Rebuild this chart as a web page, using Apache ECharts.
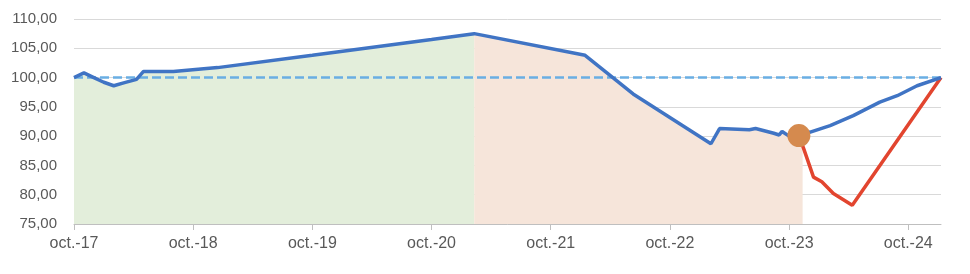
<!DOCTYPE html>
<html>
<head>
<meta charset="utf-8">
<script src="https://cdn.jsdelivr.net/npm/echarts@6/dist/echarts.min.js"></script>
<style>
html,body{margin:0;padding:0;background:#fff;}
#chart{width:970px;height:274px;}
</style>
</head>
<body>
<div id="chart"></div>
<script>
// ---- data ----
const blueDates = ['2017-10-01','2017-11-01','2017-12-01','2018-01-01','2018-02-01','2018-03-01','2018-04-10','2018-05-01','2018-08-01','2018-12-15','2019-10-01','2020-10-01','2021-02-10','2022-01-15','2022-06-10','2023-02-05','2023-03-01','2023-06-01','2023-06-20','2023-08-15','2023-09-01','2023-09-10','2023-10-01','2023-10-31','2023-12-05','2024-02-05','2024-04-15','2024-07-05','2024-08-28','2024-10-28','2025-01-10'];
const blueValues = [100.0,100.8,100.0,99.2,98.6,99.1,99.7,101.05,101.05,101.7,103.8,106.5,107.5,103.8,97.2,88.7,91.3,91.1,91.3,90.5,90.2,90.8,90.0,90.1,90.7,91.8,93.5,95.8,96.9,98.6,100.0];

const redDates = ['2023-10-31','2023-11-15','2023-12-15','2024-01-10','2024-02-15','2024-04-12','2025-01-10'];
const redValues = [90.1,87.9,83.0,82.2,80.2,78.2,100.0];

const refDates = ['2017-10-01','2025-01-10'];
const refValues = [100.0,100.0];

const markerDate = '2023-10-31';
const markerValue = 90.1;

const greenEnd = '2021-02-10';
const peachEnd = '2023-11-12';
const peachEndValue = 90.3;

const axisStart = '2017-10-01';
const axisEnd = '2025-01-10';
const tickDates = ['2017-10-01','2018-10-01','2019-10-01','2020-10-01','2021-10-01','2022-10-01','2023-10-01','2024-10-01'];
const monthNames = ['janv.','févr.','mars','avr.','mai','juin','juil.','août','sept.','oct.','nov.','déc.'];
const yMin = 75, yMax = 110, yStep = 5;

// ---- helpers: dates -> months since axis start ----
const base = axisStart.split('-').map(Number);
function mo(s){ const p = s.split('-').map(Number); return (p[0]-base[0])*12 + (p[1]-base[1]) + (p[2]-1)/30.44; }
function pairs(ds, vs){ return ds.map((d,i)=>[mo(d), vs[i]]); }

const blue = pairs(blueDates, blueValues);
const greenData = blue.filter(p => p[0] <= mo(greenEnd));
const peachData = blue.filter(p => p[0] >= mo(greenEnd) && p[0] <= mo(peachEnd));
peachData.push([mo(peachEnd), peachEndValue]);

const tickVals = tickDates.map(mo);
const font = 'Liberation Sans, Arial, sans-serif';
function monthLabel(m){
  const r = Math.round(m);
  const total = base[1]-1 + r;
  const y = base[0] + Math.floor(total/12);
  return monthNames[((total%12)+12)%12] + '-' + String(y%100).padStart(2,'0');
}

const chart = echarts.init(document.getElementById('chart'), null, {renderer:'canvas'});
chart.setOption({
  animation: false,
  backgroundColor: '#ffffff',
  grid: {left: 74, right: 29, top: 19, bottom: 50},
  xAxis: {
    type: 'value',
    min: 0,
    max: mo(axisEnd),
    interval: 12,
    axisLine: {show: true, lineStyle: {color: '#BFBFBF', width: 1}},
    axisTick: {show: true, customValues: tickVals, length: 6, lineStyle: {color: '#BFBFBF'}},
    splitLine: {show: false},
    axisLabel: {
      customValues: tickVals,
      margin: 12,
      color: '#595959',
      fontFamily: font,
      fontSize: 16,
      formatter: function(v){ return monthLabel(v); }
    }
  },
  yAxis: {
    type: 'value',
    min: yMin, max: yMax, interval: yStep,
    axisLine: {show: false},
    axisTick: {show: false},
    splitLine: {show: true, lineStyle: {color: '#D9D9D9', width: 1}},
    axisLabel: {
      margin: 17,
      color: '#595959',
      fontFamily: font,
      fontSize: 15,
      formatter: function(v){ return v.toFixed(2).replace('.', ','); }
    }
  },
  series: [
    {type:'line', data: greenData, symbol:'none', lineStyle:{width:0}, areaStyle:{color:'#E3EEDB', opacity:1, origin:'start'}, z:1, silent:true},
    {type:'line', data: peachData, symbol:'none', lineStyle:{width:0}, areaStyle:{color:'#F6E5DA', opacity:1, origin:'start'}, z:1, silent:true},
    {type:'line', data: pairs(refDates, refValues), symbol:'none', lineStyle:{color:'#6AAEE3', width:2.5, type:[9,4]}, z:3},
    {type:'line', data: pairs(redDates, redValues), symbol:'none', lineStyle:{color:'#E2452F', width:3.5}, z:4},
    {type:'line', data: blue, symbol:'none', lineStyle:{color:'#4074C4', width:3.5}, z:5},
    {type:'scatter', data: [[mo(markerDate), markerValue]], symbol:'circle', symbolSize:23, itemStyle:{color:'#D58A4E', opacity:1}, z:6}
  ]
});
</script>
</body>
</html>
